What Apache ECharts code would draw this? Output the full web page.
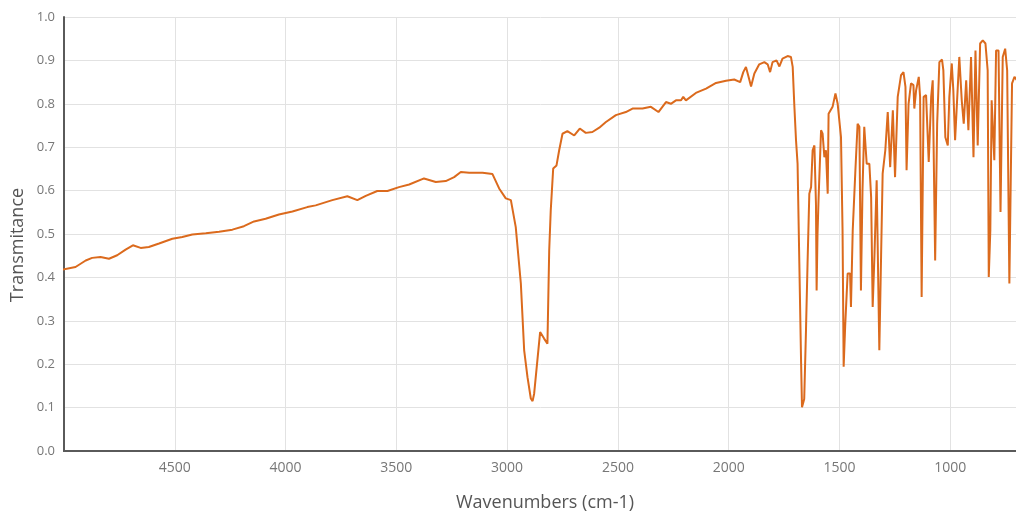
<!DOCTYPE html>
<html>
<head>
<meta charset="utf-8">
<script src="https://cdn.jsdelivr.net/npm/echarts@6/dist/echarts.min.js"></script>
<style>html,body{margin:0;padding:0;background:#fff}#c{width:1016px;height:513px}</style>
</head>
<body>
<div id="c"></div>
<script>
const xTitle = 'Wavenumbers (cm-1)';
const yTitle = 'Transmitance';
const wavenumbers = [
5008,4999,4948,4902,4873,4835,4797,4760,4722,4689,4654,4617,4571,4511,4466,4421,4360,4300,4240,4188,4142,4090,4030,3969,3902,
3864,3789,3721,3676,3638,3586,3540,3488,3442,3375,3322,3277,3239,3209,3171,3111,3066,3036,3006,2983,2976,2961,2938,2923,2908,
2893,2885,2878,2851,2833,2818,2810,2803,2792,2777,2765,2750,2728,2697,2672,2645,2615,2584,2554,2509,2464,2434,2389,2351,2317,
2283,2261,2238,2215,2205,2193,2148,2102,2057,2012,1975,1948,1934,1922,1910,1899,1884,1862,1839,1824,1813,1802,1784,1771,1757,
1734,1719,1711,1704,1696,1689,1681,1673,1669,1663,1659,1651,1644,1636,1628,1621,1613,1606,1603,1599,1594,1583,1576,1568,1561,
1553,1549,1531,1518,1508,1493,1486,1481,1474,1463,1452,1448,1440,1428,1418,1410,1403,1396,1388,1377,1365,1357,1350,1342,1332,
1320,1312,1305,1293,1282,1271,1259,1249,1237,1222,1211,1202,1197,1188,1177,1166,1162,1154,1142,1136,1129,1120,1109,1097,1086,
1079,1068,1059,1049,1037,1031,1022,1011,1004,993,986,978,969,959,948,939,928,918,906,895,886,876,865,853,841,831,826,819,813,
801,793,782,773,763,752,743,733,721,710,700
];
const transmittance = [
0.418,0.420,0.424,0.439,0.445,0.447,0.443,0.451,0.464,0.474,0.468,0.470,0.478,0.489,0.493,0.499,0.502,0.505,0.510,0.518,0.529,0.535,0.545,0.552,0.562,
0.566,0.578,0.587,0.578,0.588,0.599,0.599,0.608,0.614,0.628,0.620,0.622,0.631,0.643,0.641,0.641,0.638,0.605,0.582,0.578,0.574,0.516,0.386,0.232,0.170,
0.121,0.115,0.132,0.274,0.259,0.247,0.462,0.555,0.651,0.658,0.693,0.731,0.737,0.727,0.743,0.733,0.735,0.745,0.758,0.774,0.781,0.789,0.789,0.793,0.781,
0.804,0.800,0.808,0.808,0.816,0.808,0.825,0.835,0.848,0.853,0.856,0.850,0.873,0.885,0.862,0.840,0.870,0.891,0.896,0.891,0.873,0.896,0.900,0.886,0.904,
0.910,0.908,0.885,0.800,0.716,0.662,0.432,0.201,0.101,0.105,0.120,0.278,0.432,0.593,0.608,0.693,0.704,0.570,0.370,0.500,0.585,0.739,0.731,0.677,0.693,
0.593,0.777,0.793,0.824,0.800,0.723,0.509,0.194,0.290,0.409,0.409,0.332,0.509,0.647,0.754,0.747,0.370,0.600,0.747,0.662,0.662,0.585,0.332,0.450,0.624,
0.232,0.450,0.639,0.693,0.781,0.654,0.785,0.631,0.816,0.866,0.873,0.839,0.647,0.800,0.847,0.843,0.789,0.831,0.862,0.816,0.355,0.816,0.820,0.666,0.816,
0.854,0.439,0.754,0.896,0.902,0.877,0.723,0.704,0.816,0.893,0.831,0.716,0.808,0.908,0.808,0.754,0.854,0.739,0.908,0.677,0.923,0.704,0.939,0.946,0.939,0.877,0.401,0.509,0.808,
0.670,0.923,0.923,0.551,0.908,0.927,0.877,0.386,0.847,0.862,0.855
];
const xMin = 500, xMax = 5000, xStep = 500;
const yMin = 0, yMax = 1, yStep = 0.1;

const data = wavenumbers.map((w, i) => [w, transmittance[i]]);
const font = 'Open Sans';
const chart = echarts.init(document.getElementById('c'), null, {renderer: 'canvas'});
chart.setOption({
  animation: false,
  backgroundColor: '#fff',
  grid: {left: 64, right: -45, top: 17, bottom: 62, containLabel: false, outerBoundsMode: 'none'},
  xAxis: [{
    type: 'value', inverse: true, min: xMin, max: xMax, interval: xStep,
    axisLine: {show: true, onZero: false, lineStyle: {color: '#5a5a5a', width: 2}},
    axisTick: {show: false},
    axisLabel: {color: '#777', fontSize: 14, fontFamily: font, margin: 10, showMaxLabel: false, showMinLabel: false,
      formatter: v => String(v)},
    splitLine: {show: true, lineStyle: {color: '#e2e2e2', width: 1}}
  }, {
    type: 'value', position: 'top', inverse: true, min: xMin, max: xMax,
    axisLine: {show: true, lineStyle: {color: '#5a5a5a', width: 2}},
    axisTick: {show: false}, axisLabel: {show: false}, splitLine: {show: false}
  }],
  yAxis: {
    type: 'value', min: yMin, max: yMax, interval: yStep,
    axisLine: {show: true, lineStyle: {color: '#5a5a5a', width: 2}},
    axisTick: {show: false},
    axisLabel: {color: '#777', fontSize: 13, fontFamily: font, margin: 9, formatter: v => v.toFixed(1)},
    splitLine: {show: true, lineStyle: {color: '#e2e2e2', width: 1}}
  },
  graphic: [{
    type: 'text', x: 18, y: 245, rotation: Math.PI / 2,
    style: {text: yTitle, fill: '#555', font: '18px "Open Sans"', align: 'center', verticalAlign: 'middle'}
  }, {
    type: 'text', x: 545, y: 503,
    style: {text: xTitle, fill: '#555', font: '18px "Open Sans"', align: 'center', verticalAlign: 'middle'}
  }],
  series: [{
    type: 'line', data: data, showSymbol: false, symbol: 'none',
    lineStyle: {color: '#db6a1d', width: 2}, sampling: null, smooth: false
  }]
});
</script>
</body>
</html>
